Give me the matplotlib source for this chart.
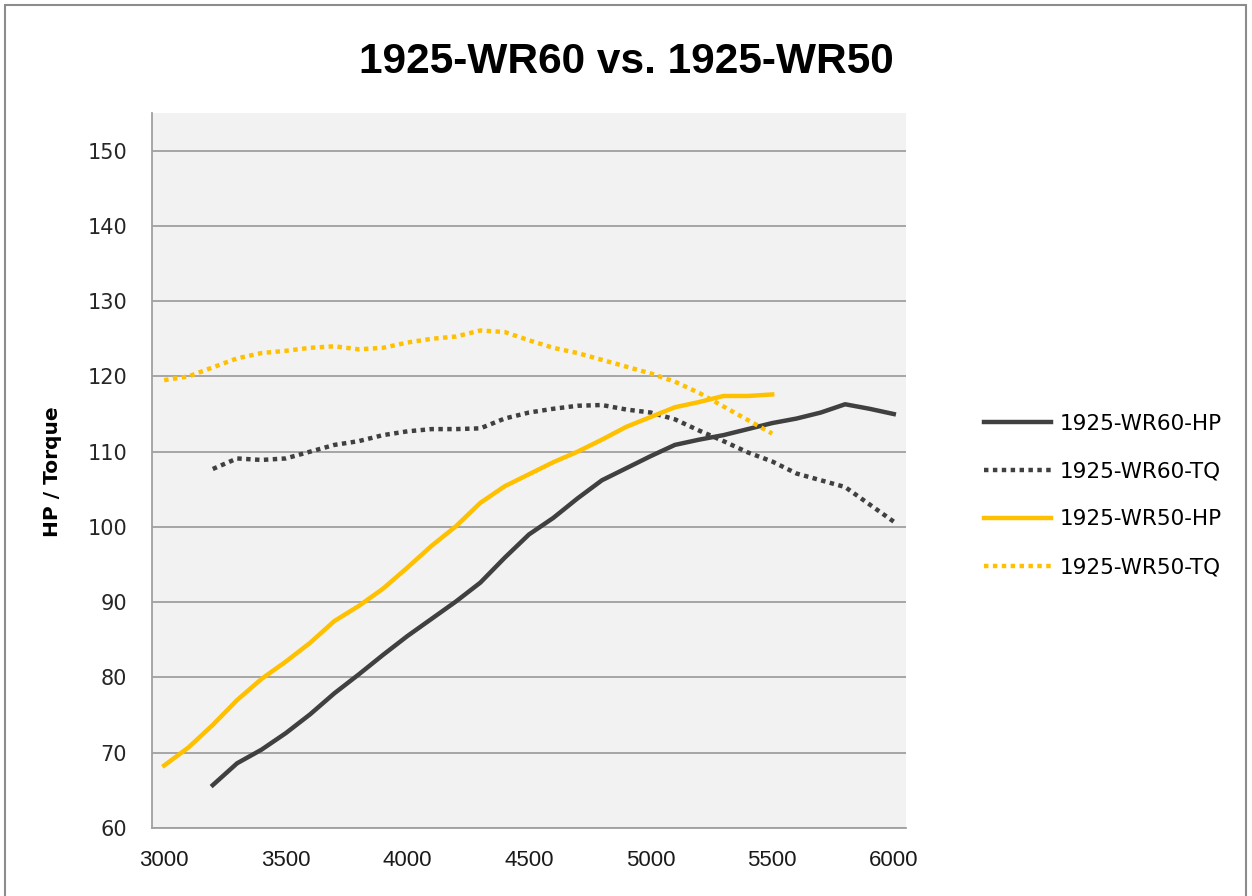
import numpy as np
import matplotlib
matplotlib.use('Agg')
import matplotlib.pyplot as plt
from matplotlib.patches import Rectangle

# dyno runs, one point per 100 rpm
rpm_wr60 = list(range(3200, 6001, 100))
rpm_wr50 = list(range(3000, 5501, 100))

wr60_hp = [65.7, 68.6, 70.4, 72.6, 75.1, 77.9, 80.4, 83.0, 85.5, 87.8,
           90.1, 92.6, 95.9, 99.0, 101.2, 103.8, 106.2, 107.8, 109.4, 110.9,
           111.6, 112.2, 113.0, 113.8, 114.4, 115.2, 116.3, 115.7, 115.0]
wr60_tq = [107.7, 109.1, 108.9, 109.1, 110.0, 110.9, 111.4, 112.2, 112.7, 113.0,
           113.0, 113.1, 114.4, 115.2, 115.7, 116.1, 116.2, 115.6, 115.2, 114.3,
           112.8, 111.4, 109.9, 108.7, 107.1, 106.2, 105.3, 103.0, 100.7]
wr50_hp = [68.3, 70.7, 73.7, 77.0, 79.8, 82.1, 84.6, 87.5, 89.5, 91.8,
           94.6, 97.5, 100.1, 103.2, 105.4, 107.0, 108.6, 110.0, 111.6, 113.3,
           114.6, 115.9, 116.6, 117.4, 117.4, 117.6]
wr50_tq = [119.5, 120.0, 121.2, 122.4, 123.1, 123.4, 123.8, 124.0, 123.6, 123.8,
           124.5, 125.0, 125.3, 126.1, 125.9, 124.8, 123.8, 123.1, 122.2, 121.3,
           120.4, 119.3, 117.8, 116.0, 114.2, 112.4]

x_ticks = [3000, 3500, 4000, 4500, 5000, 5500, 6000]
y_ticks = [60, 70, 80, 90, 100, 110, 120, 130, 140, 150]

GREY = '#404040'
GOLD = '#FFC000'

fig = plt.figure(figsize=(12.52, 8.96), dpi=100)
fig.patches.append(Rectangle((0.004, -0.01), 0.991, 1.004, transform=fig.transFigure,
                             fill=False, edgecolor='#8c8c8c', linewidth=1.5))
ax = fig.add_axes([0.1214, 0.0759, 0.6022, 0.798])
ax.set_facecolor('#F2F2F2')

dot = (0, (1, 1))
ax.plot(rpm_wr60, wr60_hp, color=GREY, lw=3.2, label='1925-WR60-HP')
ax.plot(rpm_wr60, wr60_tq, color=GREY, lw=3.2, ls=dot, label='1925-WR60-TQ')
ax.plot(rpm_wr50, wr50_hp, color=GOLD, lw=3.2, label='1925-WR50-HP')
ax.plot(rpm_wr50, wr50_tq, color=GOLD, lw=3.2, ls=dot, label='1925-WR50-TQ')

ax.set_xlim(2950, 6050)
ax.set_ylim(60, 155)
ax.set_xticks(x_ticks)
ax.set_yticks(y_ticks)
ax.set_xticklabels([str(v) for v in x_ticks], fontsize=16, family='Liberation Sans', color='#1a1a1a')
ax.set_yticklabels([str(v) for v in y_ticks], fontsize=15, family='DejaVu Sans', color='#262626')
ax.tick_params(axis='y', length=0, pad=18)
ax.tick_params(axis='x', length=0, pad=16)
ax.grid(axis='y', color='#a0a0a0', linewidth=1.3)
ax.set_axisbelow(True)
for s in ['top', 'right']:
    ax.spines[s].set_visible(False)
for s in ['left', 'bottom']:
    ax.spines[s].set_color('#a0a0a0')
    ax.spines[s].set_linewidth(1.3)

ax.set_ylabel('HP / Torque', fontsize=14.5, fontweight='bold')
ax.yaxis.set_label_coords(-0.12, 0.498)
fig.text(0.5, 0.931, '1925-WR60 vs. 1925-WR50', ha='center', va='center',
         fontsize=30.5, fontweight='bold', family='Liberation Sans')

fig.legend(loc='center left', bbox_to_anchor=(0.7705, 0.447), frameon=False,
           fontsize=15.5, handlelength=3.1, handletextpad=0.42, labelspacing=1.3)

fig.savefig('out.png', dpi=100)
